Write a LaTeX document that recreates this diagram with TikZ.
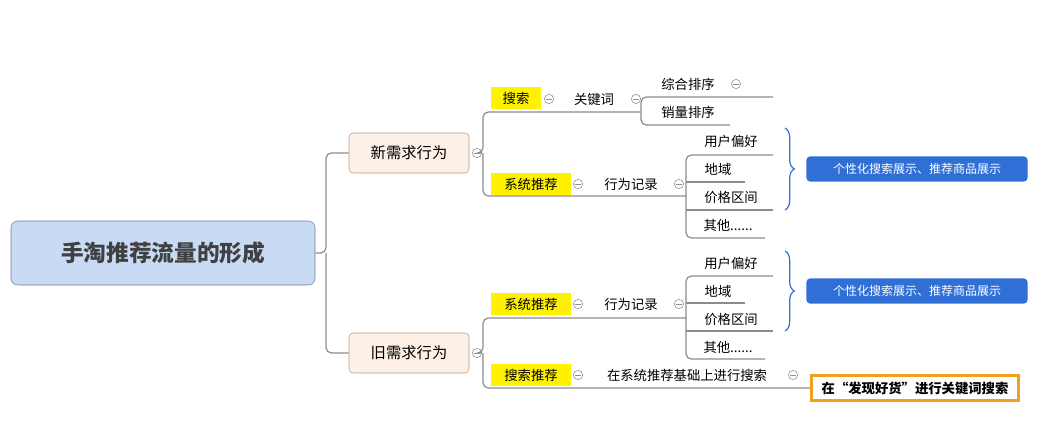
\documentclass[tikz,border=0pt]{standalone}
\usepackage{fontspec}
\setmainfont{Noto Sans CJK SC}
\usetikzlibrary{decorations.pathreplacing}
\definecolor{rootfill}{HTML}{C9DAF5}
\definecolor{rootdraw}{HTML}{6F7F99}
\definecolor{subfill}{HTML}{FDF1E7}
\definecolor{subdraw}{HTML}{B59A86}
\definecolor{ln}{HTML}{8C8C8C}
\definecolor{bl}{HTML}{2F6FD6}
\definecolor{org}{HTML}{F0A020}
\begin{document}
\begin{tikzpicture}[x=0.75pt,y=-0.75pt,
  lin/.style={draw=ln,line width=0.9pt,rounded corners=4pt},
  txt/.style={font=\fontsize{10}{12}\selectfont,inner sep=0pt},
  hl/.style={fill=yellow,minimum width=60pt,minimum height=17pt,inner sep=0pt,font=\fontsize{10}{12}\selectfont},
  hl2/.style={hl,minimum width=37.5pt},
  sub/.style={draw=subdraw,fill=subfill,rounded corners=3pt,minimum width=90pt,minimum height=30pt,font=\fontsize{11.5}{13}\selectfont},
  col/.style={circle,draw=ln,fill=white,minimum size=7pt,inner sep=0pt,path picture={\draw[ln,line width=0.6pt] ([xshift=-2pt]path picture bounding box.center)--([xshift=2pt]path picture bounding box.center);}},
  bbox/.style={fill=bl,rounded corners=3pt,minimum width=166pt,minimum height=19pt,text=white,font=\fontsize{9}{11}\selectfont\itshape},
  brace/.style={draw=bl,line width=0.9pt,decorate,decoration={brace,amplitude=7pt}}]
\useasboundingbox (0,0) rectangle (1048,446);
\node[draw=rootdraw,fill=rootfill,rounded corners=5pt,minimum width=228pt,minimum height=48pt,font=\fontsize{17}{20}\selectfont\bfseries,text=black!75] (root) at (163,253) {手淘推荐流量的形成};
\node[sub] (n1) at (409,153) {新需求行为};
\node[sub] (n2) at (409,353) {旧需求行为};
\draw[lin] (root.east) -- (326,253) |- (n1.west);
\draw[lin] (326,253) |- (n2.west);
\node[col] (c1) at (477,153) {};
\node[col] (c2) at (477,353) {};
% upper
\node[hl2] (ss) at (516,98) {搜索};
\node[hl] (xt1) at (531,184) {系统推荐};
\draw[lin] (c1.east) -- (483,153) |- (641,112);
\draw[lin] (483,153) |- (686,196);
\node[col] at (549,99) {};
\node[txt] (gjc) at (594,99) {关键词};
\node[col] at (636,99) {};
\draw[lin] (641,112) |- (773,97);
\draw[lin] (641,112) |- (730,125);
\node[txt] (zh) at (688,84) {综合排序};
\node[col] at (736,84) {};
\node[txt] (xl) at (688,112) {销量排序};
\node[col] at (578,184) {};
\node[txt] (xw1) at (631,184) {行为记录};
\node[col] at (679,184) {};
\draw[lin] (686,196) |- (773,155);
\draw[lin] (686,196) |- (765,238);
\draw[lin] (686,182) -- (745,182);
\draw[lin] (686,210) -- (773,210);
\node[txt] at (731,141) {用户偏好};
\node[txt] at (718,169) {地域};
\node[txt] at (731,197) {价格区间};
\node[txt] at (728,225) {其他......};
\draw[brace] (785,128) -- (785,210);
\node[bbox] (b1) at (917,169) {个性化搜索展示、推荐商品展示};
% lower
\node[hl] (xt2) at (531,304) {系统推荐};
\node[hl] (ssr) at (531,375) {搜索推荐};
\draw[lin] (c2.east) -- (483,353) |- (686,318);
\draw[lin] (483,353) |- (812,388);
\node[col] at (578,304) {};
\node[txt] (xw2) at (631,304) {行为记录};
\node[col] at (679,304) {};
\draw[lin] (686,318) |- (773,276);
\draw[lin] (686,318) |- (765,359);
\draw[lin] (686,303) -- (745,303);
\draw[lin] (686,331) -- (773,331);
\node[txt] at (731,263) {用户偏好};
\node[txt] at (718,291) {地域};
\node[txt] at (731,319) {价格区间};
\node[txt] at (728,347) {其他......};
\draw[brace] (785,251) -- (785,331);
\node[bbox] (b2) at (917,291) {个性化搜索展示、推荐商品展示};
\node[col] at (578,375) {};
\node[txt] (zx) at (687,375) {在系统推荐基础上进行搜索};
\node[col] at (793,375) {};
\node[draw=org,line width=2.2pt,fill=white,minimum width=155pt,minimum height=19pt,font=\fontsize{10}{12}\selectfont\bfseries] (ob) at (915,388) {在“发现好货”进行关键词搜索};
\end{tikzpicture}
\end{document}
